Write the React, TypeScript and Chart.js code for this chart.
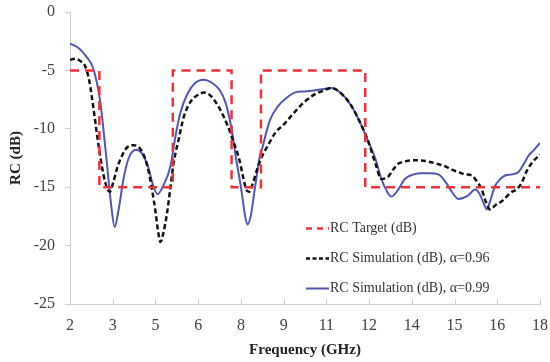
import React, { useEffect, useRef } from "react";
import { Chart, registerables } from "chart.js";

Chart.register(...registerables);

// X tick labels (as printed, equally spaced 2..18 GHz)
const X_TICK_LABELS = ["2", "3", "5", "6", "8", "9", "11", "12", "14", "15", "16", "18"];
const Y_MIN = -25;
const Y_MAX = 0;

// RC target (dB) step mask
const TARGET_F = [2, 3, 3, 5.5, 5.5, 7.5, 7.5, 8.5, 8.5, 12.05, 12.05, 18];
const TARGET_DB = [-5, -5, -15, -15, -5, -5, -15, -15, -5, -5, -15, -15];

// RC simulation, alpha = 0.96
const SIM96_F = [2.0, 2.17, 2.35, 2.51, 2.65, 2.74, 2.85, 2.97, 3.1, 3.2, 3.35, 3.47, 3.6, 3.77, 3.94, 4.17, 4.39, 4.55, 4.68, 4.8, 4.91, 5.0, 5.08, 5.18, 5.31, 5.42, 5.53, 5.7, 5.87, 6.1, 6.35, 6.56, 6.8, 7.1, 7.36, 7.55, 7.76, 7.9, 8.0, 8.1, 8.22, 8.38, 8.55, 8.7, 9.0, 9.29, 9.6, 9.98, 10.3, 10.66, 10.9, 11.2, 11.57, 11.9, 12.14, 12.4, 12.6, 12.83, 13.0, 13.17, 13.4, 13.62, 13.9, 14.19, 14.5, 14.76, 15.0, 15.22, 15.45, 15.68, 15.85, 16.02, 16.15, 16.3, 16.5, 16.7, 17.04, 17.2, 17.38, 17.55, 17.73, 18.0];
const SIM96_DB = [-4.1, -4.0, -4.2, -4.6, -5.8, -7.2, -9.2, -11.4, -13.4, -14.6, -15.4, -14.6, -13.4, -12.3, -11.6, -11.4, -11.7, -12.5, -13.7, -15.3, -17.1, -18.8, -19.7, -18.9, -17.1, -15.0, -12.9, -10.9, -9.0, -7.7, -7.1, -6.9, -7.2, -8.3, -9.7, -11.0, -12.6, -14.2, -15.2, -15.4, -14.7, -13.4, -12.3, -11.6, -10.3, -9.6, -8.7, -7.7, -7.1, -6.7, -6.5, -6.9, -8.0, -9.6, -11.0, -13.0, -14.3, -14.1, -13.5, -13.0, -12.8, -12.7, -12.7, -12.8, -13.0, -13.2, -13.5, -13.7, -13.9, -14.0, -14.5, -15.2, -16.2, -16.9, -16.5, -16.2, -15.4, -15.2, -14.6, -13.6, -12.9, -12.2];

// RC simulation, alpha = 0.99
const SIM99_F = [2.0, 2.3, 2.55, 2.8, 3.03, 3.25, 3.4, 3.52, 3.65, 3.82, 4.0, 4.25, 4.45, 4.65, 4.85, 4.98, 5.15, 5.42, 5.6, 5.76, 6.0, 6.25, 6.55, 6.85, 7.1, 7.3, 7.5, 7.65, 7.82, 7.95, 8.04, 8.15, 8.3, 8.45, 8.55, 8.8, 9.07, 9.35, 9.65, 10.0, 10.35, 10.65, 10.9, 11.2, 11.57, 11.9, 12.14, 12.4, 12.6, 12.8, 12.94, 13.15, 13.4, 13.7, 13.97, 14.25, 14.54, 14.8, 15.0, 15.22, 15.4, 15.56, 15.79, 15.95, 16.1, 16.19, 16.3, 16.47, 16.65, 16.81, 17.05, 17.27, 17.45, 17.61, 17.8, 18.0];
const SIM99_DB = [-2.7, -3.1, -3.8, -4.9, -7.7, -12.8, -16.5, -18.4, -17.0, -14.3, -12.5, -11.8, -12.1, -13.2, -15.0, -15.6, -15.0, -13.2, -10.5, -8.6, -7.0, -6.1, -5.8, -6.1, -6.7, -7.8, -10.0, -12.5, -15.0, -17.3, -18.2, -17.5, -15.0, -12.5, -11.6, -9.3, -8.1, -7.4, -6.9, -6.8, -6.7, -6.6, -6.5, -6.9, -8.0, -9.6, -11.0, -12.6, -14.3, -15.4, -15.8, -15.3, -14.3, -13.9, -13.8, -13.8, -13.9, -14.6, -15.4, -16.0, -15.9, -15.7, -15.2, -15.6, -16.5, -16.9, -16.2, -14.9, -14.3, -14.0, -13.9, -13.7, -13.0, -12.3, -11.8, -11.2];

const LEGEND_LABELS = ["RC Target (dB)", "RC Simulation (dB), \u03b1=0.96", "RC Simulation (dB), \u03b1=0.99"];

const FONT = "'Liberation Serif', 'Times New Roman', serif";
const RED = "#e8343c";
const BLACK = "#111111";
const BLUE = "#5257a8";
const AXIS = "#cfcfcf";

const toPts = (xs: number[], ys: number[]) => xs.map((x, i) => ({ x, y: ys[i] }));

export default function App() {
  const ref = useRef<HTMLCanvasElement | null>(null);

  useEffect(() => {
    document.body.style.margin = "0";
    const canvas = ref.current;
    if (!canvas) return;

    const xTickValues = X_TICK_LABELS.map((_, i) => 2 + (i * 16) / (X_TICK_LABELS.length - 1));

    const innerTicks = {
      id: "innerTicks",
      afterDraw(chart: any) {
        const ctx = chart.ctx;
        const xs = chart.scales.x;
        const area = chart.chartArea;
        ctx.save();
        ctx.strokeStyle = AXIS;
        ctx.lineWidth = 1;
        xTickValues.forEach((v) => {
          const px = Math.round(xs.getPixelForValue(v)) + 0.5;
          ctx.beginPath();
          ctx.moveTo(px, area.bottom);
          ctx.lineTo(px, area.bottom - 5);
          ctx.stroke();
        });
        ctx.restore();
      },
    };

    const legendPlugin = {
      id: "customLegend",
      afterDraw(chart: any) {
        const ctx = chart.ctx;
        const ds = chart.data.datasets;
        const x0 = 306;
        const rows = [228, 258, 288];
        ctx.save();
        ctx.font = `14px ${FONT}`;
        ctx.textBaseline = "middle";
        ctx.fillStyle = "#333333";
        ds.forEach((d: any, i: number) => {
          const y = rows[i];
          ctx.beginPath();
          ctx.strokeStyle = d.borderColor;
          ctx.lineWidth = d.borderWidth;
          ctx.setLineDash(i === 0 ? [6, 5] : i === 1 ? [4, 2.5] : []);
          ctx.moveTo(x0, y + 0.5);
          ctx.lineTo(x0 + 23, y + 0.5);
          ctx.stroke();
          ctx.setLineDash([]);
          ctx.fillText(LEGEND_LABELS[i], x0 + 24, y);
        });
        ctx.restore();
      },
    };

    const chart = new Chart(canvas, {
      type: "line",
      data: {
        datasets: [
          {
            label: LEGEND_LABELS[0],
            data: toPts(TARGET_F, TARGET_DB),
            borderColor: RED,
            borderWidth: 2.5,
            borderDash: [9, 6],
            pointRadius: 0,
            tension: 0,
            fill: false,
          },
          {
            label: LEGEND_LABELS[1],
            data: toPts(SIM96_F, SIM96_DB),
            borderColor: BLACK,
            borderWidth: 2.5,
            borderDash: [5, 3],
            pointRadius: 0,
            cubicInterpolationMode: "monotone",
            fill: false,
          },
          {
            label: LEGEND_LABELS[2],
            data: toPts(SIM99_F, SIM99_DB),
            borderColor: BLUE,
            borderWidth: 2,
            pointRadius: 0,
            cubicInterpolationMode: "monotone",
            fill: false,
          },
        ],
      },
      options: {
        animation: false,
        responsive: false,
        maintainAspectRatio: false,
        layout: { padding: { top: 12, right: 10, left: 0, bottom: 0 } },
        plugins: {
          legend: { display: false },
          tooltip: { enabled: false },
        },
        scales: {
          x: {
            type: "linear",
            min: 2,
            max: 18,
            afterBuildTicks: (scale: any) => {
              scale.ticks = xTickValues.map((v) => ({ value: v }));
            },
            afterFit: (scale: any) => {
              scale.height = 58;
              scale.paddingLeft = 0;
              scale.paddingRight = 0;
            },
            ticks: {
              autoSkip: false,
              maxRotation: 0,
              padding: 12,
              color: "#404040",
              font: { family: FONT, size: 16 },
              callback: (_v: any, i: number) => X_TICK_LABELS[i],
            },
            grid: { display: true, drawOnChartArea: false, drawTicks: false, color: AXIS },
            border: { display: true, color: AXIS, width: 1 },
            title: {
              display: true,
              text: "Frequency (GHz)",
              color: "#222222",
              font: { family: FONT, size: 15, weight: "bold" },
              padding: { top: 0, bottom: 3 },
            },
          },
          y: {
            min: Y_MIN,
            max: Y_MAX,
            afterFit: (scale: any) => {
              scale.width = 70;
              scale.paddingTop = 0;
              scale.paddingBottom = 0;
            },
            ticks: {
              stepSize: 5,
              padding: 10,
              color: "#404040",
              font: { family: FONT, size: 16 },
            },
            grid: { display: true, drawOnChartArea: false, drawTicks: true, tickLength: 5, color: AXIS },
            border: { display: true, color: AXIS, width: 1 },
            title: {
              display: true,
              text: "RC (dB)",
              color: "#222222",
              font: { family: FONT, size: 15, weight: "bold" },
              padding: { top: 7, bottom: 0 },
            },
          },
        },
      },
      plugins: [innerTicks, legendPlugin],
    } as any);

    return () => chart.destroy();
  }, []);

  return (
    <div style={{ width: 550, height: 362 }}>
      <canvas ref={ref} width={550} height={362} style={{ display: "block", width: 550, height: 362 }} />
    </div>
  );
}
